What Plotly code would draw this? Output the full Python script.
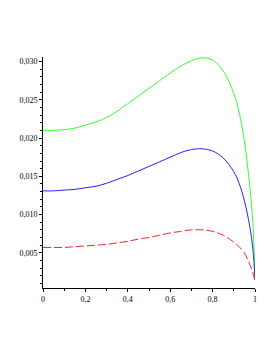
import plotly.graph_objects as go

x = [0, 0.05, 0.1, 0.15, 0.2, 0.25, 0.3, 0.35, 0.4, 0.45, 0.5, 0.55, 0.6, 0.65, 0.7, 0.75, 0.8,
     0.85, 0.9, 0.925, 0.95, 0.975, 0.99, 1.0]
green = [0.0210, 0.02102, 0.0211, 0.0213, 0.0217, 0.0221, 0.0227, 0.0235, 0.0245, 0.0255, 0.0265,
         0.0275, 0.0285, 0.0294, 0.0301, 0.0305, 0.0302, 0.0288, 0.0258, 0.0234, 0.0196, 0.0138,
         0.0088, 0.0015]
blue = [0.0131, 0.0131, 0.0132, 0.0133, 0.0135, 0.0137, 0.0141, 0.0146, 0.0151, 0.0157, 0.0163,
        0.0169, 0.0175, 0.0181, 0.0185, 0.0186, 0.0183, 0.0174, 0.0156, 0.0141, 0.0118, 0.0085,
        0.0055, 0.0015]
red = [0.0057, 0.0057, 0.0057, 0.0058, 0.0059, 0.0060, 0.0061, 0.0063, 0.0065, 0.0068, 0.0070,
       0.0073, 0.0076, 0.0078, 0.0080, 0.0080, 0.0078, 0.0073, 0.0064, 0.0058, 0.0050, 0.0035,
       0.0024, 0.0012]

xticks = [0, 0.2, 0.4, 0.6, 0.8, 1]
xticktext = ["0", "0,2", "0,4", "0,6", "0,8", "1"]
yticks = [0.005, 0.010, 0.015, 0.020, 0.025, 0.030]
yticktext = ["0,005", "0,010", "0,015", "0,020", "0,025", "0,030"]

fig = go.Figure()
fig.add_trace(go.Scatter(x=x, y=green, mode="lines", line=dict(color="#33ff33", width=1, shape="spline", smoothing=1)))
fig.add_trace(go.Scatter(x=x, y=blue, mode="lines", line=dict(color="#2222ff", width=1, shape="spline", smoothing=1)))
fig.add_trace(go.Scatter(x=x, y=red, mode="lines", line=dict(color="#ff2222", width=1, dash="8px,3px", shape="spline", smoothing=1)))

tf = dict(family="Liberation Serif", size=8, color="black")
fig.update_layout(
    width=269, height=350,
    margin=dict(l=35, r=22, t=49, b=70),
    paper_bgcolor="white", plot_bgcolor="white",
    showlegend=False,
    font=tf,
    xaxis=dict(range=[0, 1], tickvals=xticks, ticktext=xticktext, showgrid=False, zeroline=False,
               showline=True, linecolor="black", linewidth=1, ticks="outside", ticklen=3,
               tickcolor="black", tickfont=tf,
               minor=dict(dtick=0.1, ticks="outside", ticklen=2, tickcolor="black")),
    yaxis=dict(range=[0.0004, 0.0306], tickvals=yticks, ticktext=yticktext, showgrid=False, zeroline=False,
               showline=True, linecolor="black", linewidth=1, ticks="outside", ticklen=3,
               tickcolor="black", tickfont=tf,
               minor=dict(dtick=0.001, ticks="outside", ticklen=2, tickcolor="black")),
)
fig.write_html("out.html")
